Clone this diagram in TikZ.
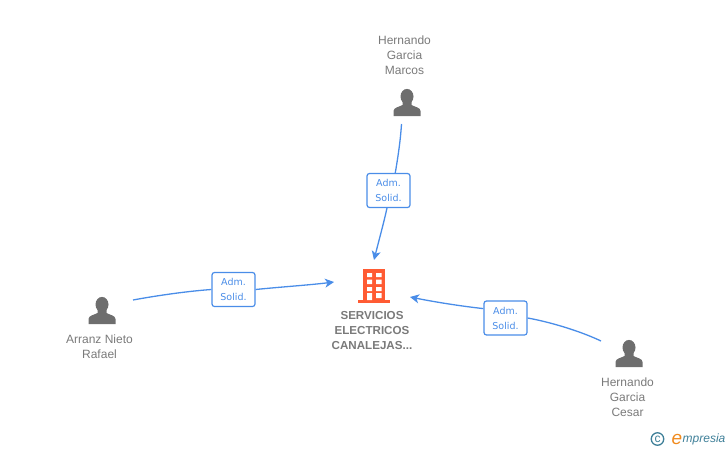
\documentclass[tikz,border=0pt]{standalone}
\usepackage{fontspec}
\setmainfont{Liberation Sans}
\newfontfamily\badgefont{DejaVu Sans}
\usetikzlibrary{arrows.meta}
\definecolor{linkblue}{HTML}{4A8DE8}
\definecolor{persongrey}{HTML}{6E6E6E}
\definecolor{labelgrey}{HTML}{7A7A7A}
\definecolor{bldg}{HTML}{FF5B33}
\definecolor{logoorange}{HTML}{F08A1D}
\definecolor{logoteal}{HTML}{3E7F98}
\tikzset{
  x=1pt,y=-1pt,
  badge/.style={draw=linkblue,line width=1.2pt,rounded corners=2.5pt,fill=white,minimum width=43pt,minimum height=34pt,inner sep=0pt,align=center,text=linkblue,font=\badgefont\fontsize{9.5}{15}\selectfont},
  plabel/.style={align=center,text=labelgrey,inner sep=0pt,font=\fontsize{12}{15}\selectfont},
  blabel/.style={align=center,text=labelgrey,inner sep=0pt,font=\fontsize{11.6}{15}\selectfont\bfseries},
  link/.style={draw=linkblue,line width=1.3pt},
  tip/.style={-{Stealth[length=9pt,width=9pt,inset=2.5pt]}},
  pics/person/.style={code={
    \fill[persongrey] (0,-6.5) ellipse (6.5 and 7.6);
    \fill[persongrey] (-13.5,13) -- (-13.5,8) .. controls (-13.5,4.5) and (-8,4) .. (-4.5,2) -- (-4.5,-3) -- (4.5,-3) -- (4.5,2) .. controls (8,4) and (13.5,4.5) .. (13.5,8) -- (13.5,13) -- cycle;
  }}
}
\begin{document}
\begin{tikzpicture}
\useasboundingbox (0,0) rectangle (728,450);
% persons
\pic at (407,103) {person};
\pic at (102,311) {person};
\pic at (629,354) {person};
\node[plabel] (marcos) at (404.5,55) {Hernando\\Garcia\\Marcos};
\node[plabel] (rafael) at (99.5,346.5) {Arranz Nieto\\Rafael};
\node[plabel] (cesar) at (627.5,397) {Hernando\\Garcia\\Cesar};
% building
\fill[bldg] (363,269) rectangle (385,300);
\fill[bldg] (358,300) rectangle (390,303);
\fill[white] (367,273) rectangle (372,277) (376,273) rectangle (381.5,277)
 (367,279.5) rectangle (372,284) (376,279.5) rectangle (381.5,284)
 (367,287) rectangle (372,291) (376,287) rectangle (381.5,291)
 (367,293) rectangle (372,300) (376,293) rectangle (381.5,298);
\node[blabel] (company) at (372,331) {SERVICIOS\\ELECTRICOS\\CANALEJAS...};
% connector ends
\coordinate (s1) at (401.5,124);
\coordinate (e1) at (374,260);
\coordinate (s2) at (133,300);
\coordinate (e2) at (334,282);
\coordinate (s3) at (601,341);
\coordinate (e3) at (410,297);
% badges
\node[badge] (b1) at (388.5,190.5) {Adm.\\Solid.};
\node[badge] (b2) at (233.5,289.5) {Adm.\\Solid.};
\node[badge] (b3) at (505.5,318) {Adm.\\Solid.};
% connectors
\draw[link] (s1) .. controls (400.5,140) and (398,157) .. (b1.69);
\draw[link,tip] (b1.265) .. controls (384,222) and (379,240) .. (e1);
\draw[link] (s2) .. controls (160,295) and (190,291) .. (b2.west);
\draw[link,tip] (b2.east) .. controls (280,287) and (310,285) .. (e2);
\draw[link] (s3) .. controls (580,331) and (550,322) .. (b3.east);
\draw[link,tip] (b3.157) .. controls (460,306) and (435,302) .. (e3);
% logo
\node[draw=logoteal,line width=1.3pt,circle,minimum size=12.5pt,inner sep=0pt,text=logoteal,font=\fontsize{12}{12}\selectfont] (copy) at (657.5,439) {c};
\node[inner sep=0pt,text=logoorange,font=\fontsize{19}{19}\selectfont\itshape] (logoe) at (677,439) {e};
\node[inner sep=0pt,anchor=west,text=logoteal,font=\fontsize{12}{12}\selectfont\itshape] (logo) at (682.5,439.5) {mpresia};
\end{tikzpicture}
\end{document}
